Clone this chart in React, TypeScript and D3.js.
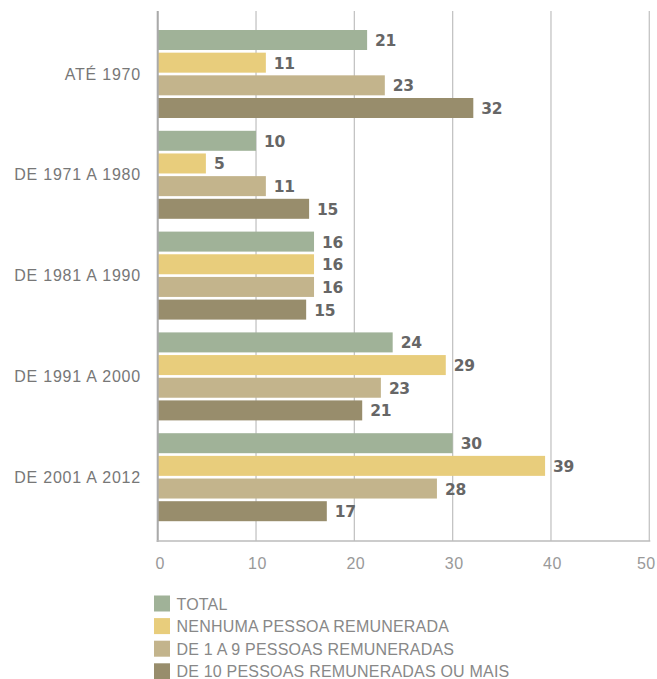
import React from "react";
import * as d3 from "d3";

const categories = ["ATÉ 1970", "DE 1971 A 1980", "DE 1981 A 1990", "DE 1991 A 2000", "DE 2001 A 2012"];
const seriesNames = ["TOTAL", "NENHUMA PESSOA REMUNERADA", "DE 1 A 9 PESSOAS REMUNERADAS", "DE 10 PESSOAS REMUNERADAS OU MAIS"];
const total = [21.3, 10.0, 15.9, 23.9, 30.0];
const nenhuma = [11.0, 4.9, 15.9, 29.3, 39.4];
const de1a9 = [23.1, 11.0, 15.9, 22.7, 28.4];
const de10 = [32.1, 15.4, 15.1, 20.8, 17.2];
const xTicks = [0, 10, 20, 30, 40, 50];
const colors = ["#a0b298", "#e8cd7c", "#c3b48c", "#988d6c"];

const series = [total, nenhuma, de1a9, de10];

export default function App() {
  const W = 657, H = 679;
  const x = d3.scaleLinear().domain([0, 50]).range([157.7, 649.3]);
  const y = d3.scaleBand<string>().domain(categories).range([23.6, 527.6]).paddingInner(0).paddingOuter(0);
  const inner = d3.scaleBand<number>().domain([0, 1, 2, 3]).range([0, 88]).paddingInner(0.1176).paddingOuter(0);
  const plotTop = 11, plotBottom = 541;
  const font = "'Liberation Sans', Arial, sans-serif";

  return (
    <svg width={W} height={H} style={{ position: "absolute", left: 0, top: 0 }} fontFamily={font}>
      {xTicks.map((t) => (
        <line key={"g" + t} x1={x(t)} x2={x(t)} y1={plotTop} y2={plotBottom} stroke="#c4c4c4" strokeWidth={1.3} />
      ))}
      {categories.map((c, ci) => {
        const gTop = (y(c) as number) + y.bandwidth() / 2 - 44;
        return (
          <g key={c}>
            <text x={141} y={gTop + 44} textAnchor="end" dominantBaseline="central" fontSize={16} fill="#777" letterSpacing={0.8}>
              {c}
            </text>
            {series.map((s, si) => {
              const by = gTop + (inner(si) as number);
              return (
                <g key={si}>
                  <rect x={x(0)} y={by} width={x(s[ci]) - x(0)} height={inner.bandwidth()} fill={colors[si]} />
                  <text x={x(s[ci]) + 8} y={by + inner.bandwidth() / 2 + 1} dominantBaseline="central" fontSize={15.5} fontWeight="bold" fill="#666" fontFamily="'DejaVu Sans', sans-serif" letterSpacing={-0.3}>
                    {Math.round(s[ci])}
                  </text>
                </g>
              );
            })}
          </g>
        );
      })}
      <line x1={x(0)} x2={x(0)} y1={plotTop} y2={plotBottom + 1} stroke="#aaa" strokeWidth={2} />
      <line x1={x(0) - 1} x2={x(50) + 1} y1={plotBottom} y2={plotBottom} stroke="#bbb" strokeWidth={1.5} />
      {xTicks.map((t) => (
        <text key={"t" + t} x={t === 50 ? x(t) - 3 : t === 0 ? x(t) + 2.5 : x(t) + 1.5} y={569} textAnchor="middle" fontSize={16} fill="#999" letterSpacing={0.5}>
          {t}
        </text>
      ))}
      {seriesNames.map((n, i) => {
        const ly = 595.5 + i * 22.6;
        return (
          <g key={n}>
            <rect x={154} y={ly} width={16} height={16} fill={colors[i]} />
            <text x={176.5} y={ly + 8.5} dominantBaseline="central" fontSize={16} fill="#888" letterSpacing={0.2}>
              {n}
            </text>
          </g>
        );
      })}
    </svg>
  );
}
